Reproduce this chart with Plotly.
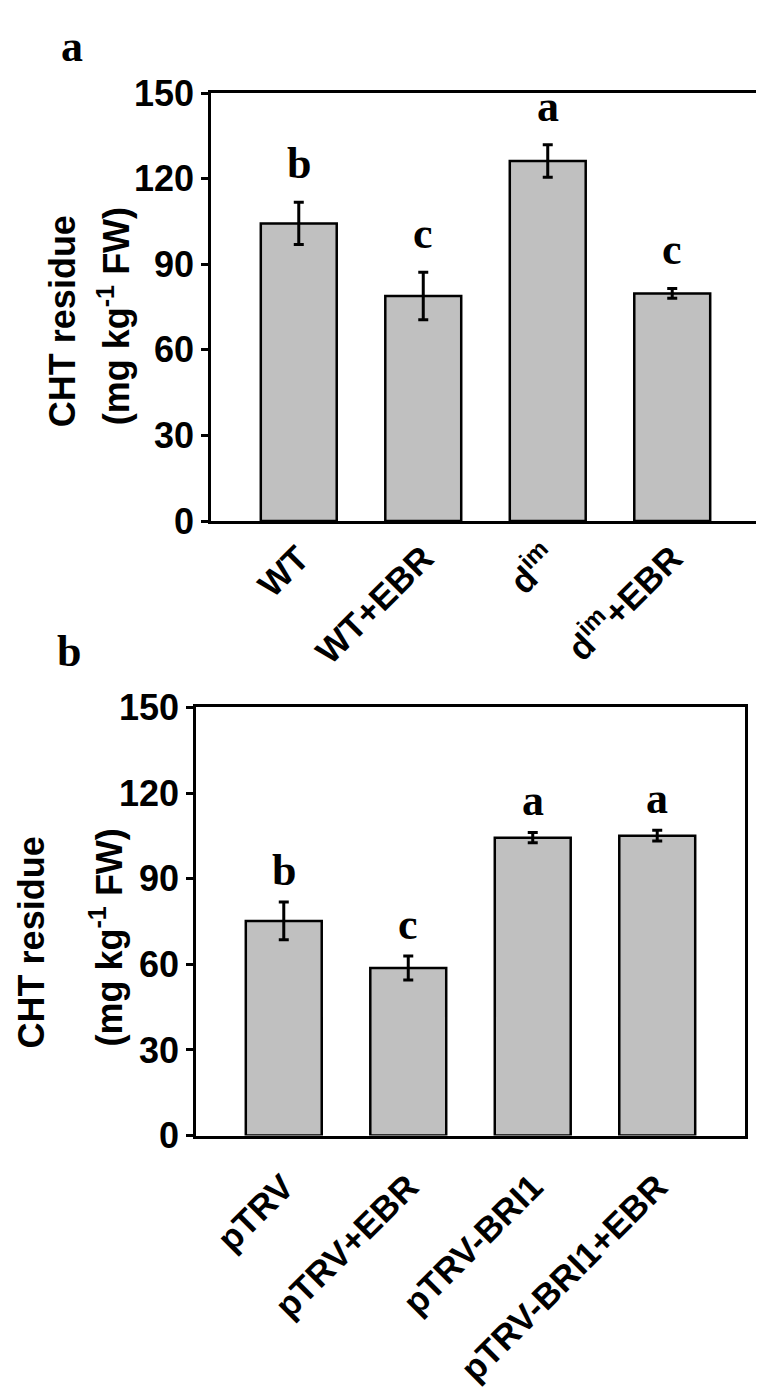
import plotly.graph_objects as go

# ---------------- data ----------------
cats_a = ["WT", "WT+EBR", "d<sup>im</sup>", "d<sup>im</sup>+EBR"]
mean_a = [104.3, 78.9, 126.2, 79.8]
err_a = [7.4, 8.3, 5.7, 1.75]
sig_a = ["b", "c", "a", "c"]

cats_b = ["pTRV", "pTRV+EBR", "pTRV-BRI1", "pTRV-BRI1+EBR"]
mean_b = [75.2, 58.7, 104.4, 105.1]
err_b = [6.6, 4.2, 1.8, 1.85]
sig_b = ["b", "c", "a", "a"]

y_ticks = [0, 30, 60, 90, 120, 150]
y_title_1 = "CHT residue"
y_title_2 = "(mg kg<sup>-1</sup> FW)"
panel_labels = ["a", "b"]

# ---------------- layout helpers ----------------
W, H = 764, 1399


def px(x):
    return x / W


def py(y):
    return 1 - y / H


SANS = "Liberation Sans, Arial, sans-serif"
SERIF = "Liberation Serif, Times New Roman, serif"
BAR_FILL = "#c0c0c0"

panels = [
    dict(cats=cats_a, mean=mean_a, err=err_a, sig=sig_a, xa="x", ya="y",
         box=(203, 752, 67, 508), sig_shift=12, standoff=None,
         t1=(54, 302), t2=(106, 297), lab=(64, 19)),
    dict(cats=cats_b, mean=mean_b, err=err_b, sig=sig_b, xa="x2", ya="y2",
         box=(188, 737, 700, 1141), sig_shift=5, standoff=14,
         t1=(23, 942), t2=(98, 937), lab=(61, 642)),
]

fig = go.Figure()
annotations = []
layout_axes = {}

for k, p in enumerate(panels):
    xs = list(range(len(p["mean"])))
    fig.add_trace(go.Bar(
        x=xs, y=p["mean"], width=0.61,
        marker=dict(color=BAR_FILL, line=dict(color="black", width=2.5)),
        error_y=dict(type="data", array=p["err"], color="black",
                     thickness=3, width=5),
        xaxis=p["xa"], yaxis=p["ya"], showlegend=False,
        hoverinfo="skip",
    ))
    x0, x1, y0, y1 = p["box"]
    xkey = "xaxis" if p["xa"] == "x" else "xaxis2"
    ykey = "yaxis" if p["ya"] == "y" else "yaxis2"
    xaxis = dict(
        domain=[px(x0), px(x1)], anchor=p["ya"],
        range=[-0.705, len(xs) - 1 + 0.705],
        tickmode="array", tickvals=xs, ticktext=p["cats"],
        tickangle=-45, ticks="",
        tickfont=dict(family=SANS, size=35, color="black", weight="bold"),
        showline=True, mirror=True, linecolor="black", linewidth=2.5,
        showgrid=False, zeroline=False, fixedrange=True,
    )
    if p["standoff"] is not None:
        xaxis["ticklabelstandoff"] = p["standoff"]
    layout_axes[xkey] = xaxis
    layout_axes[ykey] = dict(
        domain=[py(y1), py(y0)], anchor=p["xa"],
        range=[0, 150], tickmode="array", tickvals=y_ticks,
        ticks="outside", ticklen=7, tickwidth=2.5, tickcolor="black",
        tickfont=dict(family=SANS, size=36, color="black", weight="bold"),
        showline=True, mirror=True, linecolor="black", linewidth=2.5,
        showgrid=False, zeroline=False, fixedrange=True,
    )
    # significance letters
    for i, (m, e, s) in enumerate(zip(p["mean"], p["err"], p["sig"])):
        annotations.append(dict(
            x=i, y=m + e, xref=p["xa"], yref=p["ya"], text=s,
            showarrow=False, yanchor="bottom", yshift=p["sig_shift"],
            font=dict(family=SERIF, size=44, color="black", weight="bold"),
        ))
    # y-axis title (two lines)
    for (tx, ty), txt in ((p["t1"], y_title_1), (p["t2"], y_title_2)):
        annotations.append(dict(
            x=px(tx), y=py(ty), xref="paper", yref="paper", text=txt,
            textangle=-90, showarrow=False, xanchor="center", yanchor="middle",
            font=dict(family=SANS, size=36, color="black", weight="bold"),
        ))
    # panel label
    lx, ly = p["lab"]
    annotations.append(dict(
        x=px(lx), y=py(ly), xref="paper", yref="paper", text=panel_labels[k],
        showarrow=False, xanchor="center", yanchor="middle",
        font=dict(family=SERIF, size=44, color="black", weight="bold"),
    ))

fig.update_layout(
    width=W, height=H,
    margin=dict(l=0, r=0, t=0, b=0),
    paper_bgcolor="white", plot_bgcolor="white",
    annotations=annotations,
    bargap=0.4,
    **layout_axes,
)

fig.write_html("out.html")
